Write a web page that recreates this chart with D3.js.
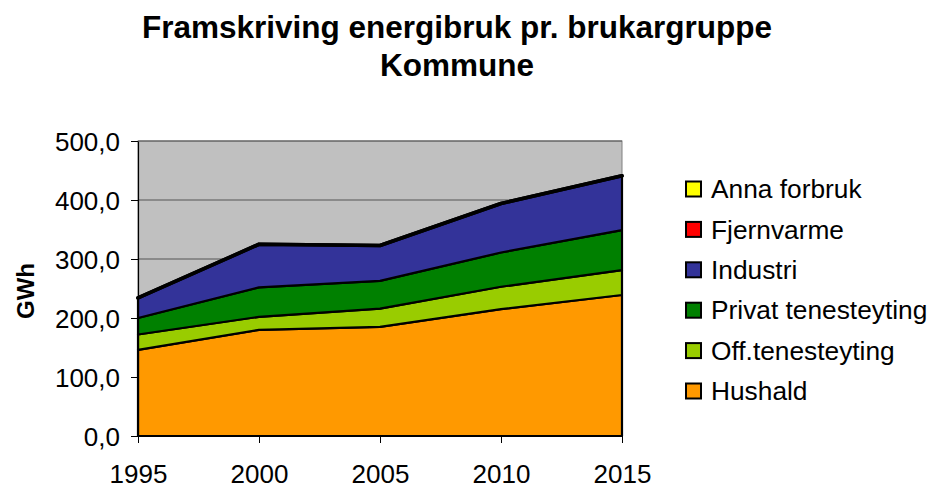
<!DOCTYPE html>
<html><head><meta charset="utf-8">
<script src="https://cdn.jsdelivr.net/npm/d3@7"></script>
<style>body{margin:0;background:#fff;}svg{display:block;font-family:Arial,"Liberation Sans",sans-serif;}</style>
</head><body><svg id="c" width="932" height="493"></svg>
<script>
const years = [1995, 2000, 2005, 2010, 2015];
const seriesNames = ["Hushald", "Off.tenesteyting", "Privat tenesteyting", "Industri", "Fjernvarme", "Anna forbruk"];
const hushald = [146, 180, 185, 215, 239];
const offTenesteyting = [26, 22, 31, 38, 42];
const privatTenesteyting = [28, 50, 47, 58, 68];
const industri = [34, 73, 60, 83, 92];
const fjernvarme = [0, 0, 0, 0, 0];
const annaForbruk = [0, 0, 0, 0, 0];
const yTicks = [0, 100, 200, 300, 400, 500];
const colors = ["#FF9900", "#99CC00", "#008000", "#333399", "#FF0000", "#FFFF00"];

const seriesValues = [hushald, offTenesteyting, privatTenesteyting, industri, fjernvarme, annaForbruk];
const table = years.map((yr, i) => {
  const row = {year: yr};
  seriesNames.forEach((n, k) => row[n] = seriesValues[k][i]);
  return row;
});

const FONT = "Arial, 'Liberation Sans', sans-serif";
const svg = d3.select("#c");
const pL = 138, pR = 622, pT = 141, pB = 436;
const x = d3.scaleLinear().domain([1995, 2015]).range([pL, pR]);
const y = d3.scaleLinear().domain([0, 500]).range([pB, pT]);

svg.append("rect").attr("x", pL).attr("y", pT).attr("width", pR - pL).attr("height", pB - pT)
  .attr("fill", "#C0C0C0").attr("stroke", "#808080").attr("stroke-width", 1);

svg.append("g").selectAll("line").data(yTicks.filter(t => t > 0)).join("line")
  .attr("x1", pL).attr("x2", pR).attr("y1", d => y(d)).attr("y2", d => y(d))
  .attr("stroke", "#555").attr("stroke-width", 1);

const stack = d3.stack().keys(seriesNames);
const layers = stack(table);
const area = d3.area().x(d => x(d.data.year)).y0(d => y(d[0])).y1(d => y(d[1]));
svg.append("g").selectAll("path").data(layers).join("path")
  .attr("d", area).attr("fill", (d, i) => colors[i])
  .attr("stroke", "#000").attr("stroke-width", (d, i) => i >= 4 ? 3.6 : 2.2)
  .attr("stroke-linejoin", "round");

// axes
const yAxis = d3.axisLeft(y).tickValues(yTicks).tickSize(7).tickSizeOuter(0)
  .tickFormat(d => d3.format(".1f")(d).replace(".", ","));
const gy = svg.append("g").attr("transform", `translate(${pL},0)`).call(yAxis);
gy.select(".domain").attr("stroke", "#000").attr("stroke-width", 1.2);
gy.selectAll(".tick line").attr("stroke", "#000");
gy.selectAll(".tick text").attr("font-size", 26).attr("fill", "#000").attr("x", -18).attr("dy", "0.35em")
  .style("font-family", FONT);

const xAxis = d3.axisBottom(x).tickValues(years).tickSize(7).tickSizeOuter(0).tickFormat(d3.format("d"));
const gx = svg.append("g").attr("transform", `translate(0,${pB})`).call(xAxis);
gx.select(".domain").attr("stroke", "#000").attr("stroke-width", 1.2);
gx.selectAll(".tick line").attr("stroke", "#000");
gx.selectAll(".tick text").attr("font-size", 26).attr("fill", "#000").attr("y", 47).attr("dy", 0)
  .style("font-family", FONT);

// title
svg.append("text").attr("x", 457).attr("y", 38).attr("text-anchor", "middle")
  .attr("font-size", 31.5).attr("font-weight", "bold").text("Framskriving energibruk pr. brukargruppe");
svg.append("text").attr("x", 457).attr("y", 76).attr("text-anchor", "middle")
  .attr("font-size", 31.5).attr("font-weight", "bold").text("Kommune");

// y label
svg.append("text").attr("transform", "translate(34,291) rotate(-90)").attr("text-anchor", "middle")
  .attr("font-size", 24).attr("font-weight", "bold").text("GWh");

// legend (top to bottom = reverse stack order)
const legendOrder = seriesNames.map((n, i) => ({name: n, color: colors[i]})).reverse();
const lg = svg.append("g").selectAll("g").data(legendOrder).join("g")
  .attr("transform", (d, i) => `translate(686,${189 + i * 40.4})`);
lg.append("rect").attr("x", 0).attr("y", -7.5).attr("width", 15).attr("height", 15)
  .attr("fill", d => d.color).attr("stroke", "#000").attr("stroke-width", 2);
lg.append("text").attr("x", 25).attr("y", 0).attr("dy", "0.35em").attr("font-size", 26.3).text(d => d.name);
</script></body></html>
